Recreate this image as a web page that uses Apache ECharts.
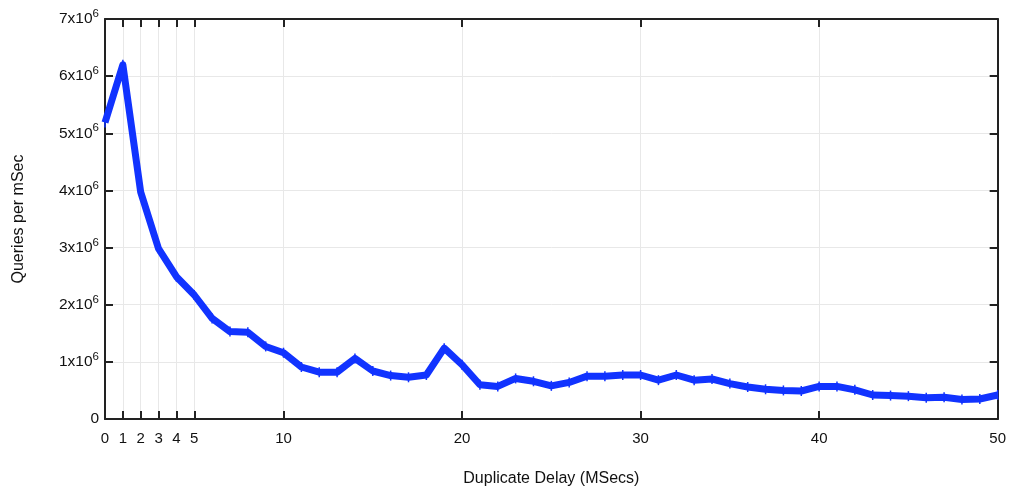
<!DOCTYPE html>
<html>
<head>
<meta charset="utf-8">
<script src="https://cdn.jsdelivr.net/npm/echarts@6/dist/echarts.min.js"></script>
<style>
  html, body { margin: 0; padding: 0; background: #fff; }
  #chart { width: 1009px; height: 492px; }
</style>
</head>
<body>
<div id="chart"></div>
<script>
// Duplicate delay (ms) and measured query rate (queries per ms)
const delays = [0,1,2,3,4,5,6,7,8,9,10,11,12,13,14,15,16,17,18,19,20,21,22,23,24,25,26,27,28,29,30,31,32,33,34,35,36,37,38,39,40,41,42,43,44,45,46,47,48,49,50];
const queries = [5.19e6,6.2e6,3.97e6,2.98e6,2.49e6,2.17e6,1.76e6,1.53e6,1.52e6,1.27e6,1.16e6,0.91e6,0.82e6,0.82e6,1.06e6,0.84e6,0.76e6,0.73e6,0.77e6,1.24e6,0.95e6,0.6e6,0.57e6,0.71e6,0.66e6,0.58e6,0.64e6,0.75e6,0.75e6,0.77e6,0.77e6,0.68e6,0.77e6,0.68e6,0.7e6,0.62e6,0.56e6,0.52e6,0.5e6,0.49e6,0.57e6,0.57e6,0.51e6,0.42e6,0.41e6,0.4e6,0.37e6,0.38e6,0.34e6,0.35e6,0.42e6];
const xTicks = [0,1,2,3,4,5,10,20,30,40,50];

const FONT = 'Liberation Sans';
const points = delays.map((d, i) => [d, queries[i]]);

function sciLabel(v) {
  if (v === 0) return '{b|0}';
  return '{b|' + Math.round(v / 1e6) + 'x10}{s|6}';
}

const chart = echarts.init(document.getElementById('chart'), null, { renderer: 'canvas' });
chart.setOption({
  animation: false,
  backgroundColor: '#ffffff',
  grid: { left: 105, right: 11, top: 19, bottom: 70, containLabel: false },
  xAxis: [{
    type: 'value', min: 0, max: 50,
    name: 'Duplicate Delay (MSecs)', nameLocation: 'middle', nameGap: 52,
    nameTextStyle: { fontFamily: FONT, fontSize: 16, color: '#111' },
    axisLine: { onZero: false, lineStyle: { color: '#222', width: 2 } },
    axisTick: { inside: true, length: 8, customValues: xTicks, lineStyle: { color: '#222', width: 2 } },
    axisLabel: { customValues: xTicks, margin: 12, fontFamily: FONT, fontSize: 15, color: '#111' },
    splitLine: { show: true, lineStyle: { color: '#e8e8e8', width: 1 } }
  }, {
    type: 'value', min: 0, max: 50, position: 'top',
    axisLine: { onZero: false, lineStyle: { color: '#222', width: 2 } },
    axisTick: { inside: true, length: 8, customValues: xTicks, lineStyle: { color: '#222', width: 2 } },
    axisLabel: { show: false },
    splitLine: { show: false }
  }],
  yAxis: [{
    type: 'value', min: 0, max: 7e6, interval: 1e6,
    name: 'Queries per mSec', nameLocation: 'middle', nameGap: 78,
    nameTextStyle: { fontFamily: FONT, fontSize: 16, color: '#111' },
    axisLine: { show: true, onZero: false, lineStyle: { color: '#222', width: 2 } },
    axisTick: { show: true, inside: true, length: 8, lineStyle: { color: '#222', width: 2 } },
    axisLabel: {
      margin: 6, formatter: sciLabel,
      rich: {
        b: { fontFamily: FONT, fontSize: 15.5, color: '#111' },
        s: { fontFamily: FONT, fontSize: 11.5, color: '#111', padding: [0, 0, 10, 0] }
      }
    },
    splitLine: { show: true, lineStyle: { color: '#e8e8e8', width: 1 } }
  }, {
    type: 'value', min: 0, max: 7e6, interval: 1e6, position: 'right',
    axisLine: { show: true, onZero: false, lineStyle: { color: '#222', width: 2 } },
    axisTick: { show: true, inside: true, length: 8, lineStyle: { color: '#222', width: 2 } },
    axisLabel: { show: false },
    splitLine: { show: false }
  }],
  series: [{
    type: 'line',
    data: points,
    xAxisIndex: 0, yAxisIndex: 0,
    showSymbol: true,
    symbol: 'rect', symbolSize: [1.5, 10],
    itemStyle: { color: '#1133ff' },
    lineStyle: { color: '#1133ff', width: 7, join: 'round' },
    clip: false
  }]
});
</script>
</body>
</html>
